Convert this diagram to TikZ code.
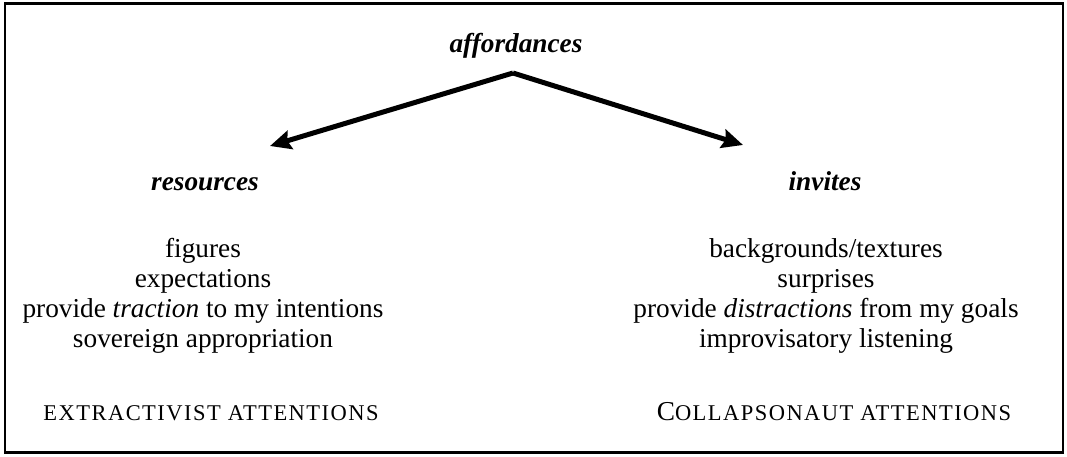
\documentclass[tikz,border=0pt]{standalone}
\usepackage{fontspec}
\setmainfont{Liberation Serif}
\usetikzlibrary{arrows.meta}
\newcommand{\bodysize}{\fontsize{27.3}{30}\selectfont}
\newcommand{\scsize}{\fontsize{22.5}{26}\selectfont\addfontfeature{LetterSpace=6.5}}
\begin{document}
\begin{tikzpicture}[x=1pt,y=-1pt,
  txt/.style={anchor=base,inner sep=0pt,font=\bodysize},
  head/.style={anchor=base,inner sep=0pt,font=\bodysize\bfseries\itshape},
  arr/.style={line width=5pt,-{Stealth[length=21pt,width=19pt,inset=3pt]}}]
\useasboundingbox (0,0) rectangle (1067,457);
\draw[line width=2.5pt] (5,3.5) rectangle (1063,452.5);
\node[head] (aff) at (516,53) {affordances};
\node[head] (res) at (205,190) {resources};
\node[head] (inv) at (825,190) {invites};
\coordinate (apex) at (513,73);
\coordinate (tipL) at (270,146);
\coordinate (tipR) at (743,145);
\draw[arr] (apex) -- (tipL);
\draw[arr] (apex) -- (tipR);
\node[txt] (l1) at (203,257) {figures};
\node[txt] (l2) at (203,287) {expectations};
\node[txt] (l3) at (203,317) {provide \textit{traction} to my intentions};
\node[txt] (l4) at (203,347) {sovereign appropriation};
\node[txt,font=\scsize] (l5) at (211,420) {EXTRACTIVIST ATTENTIONS};
\node[txt] (r1) at (826,257) {backgrounds/textures};
\node[txt] (r2) at (826,287) {surprises};
\node[txt] (r3) at (826,317) {provide \textit{distractions} from my goals};
\node[txt] (r4) at (826,347) {improvisatory listening};
\node[txt] (r5) at (834,420) {C{\scsize OLLAPSONAUT ATTENTIONS}};
\end{tikzpicture}
\end{document}
